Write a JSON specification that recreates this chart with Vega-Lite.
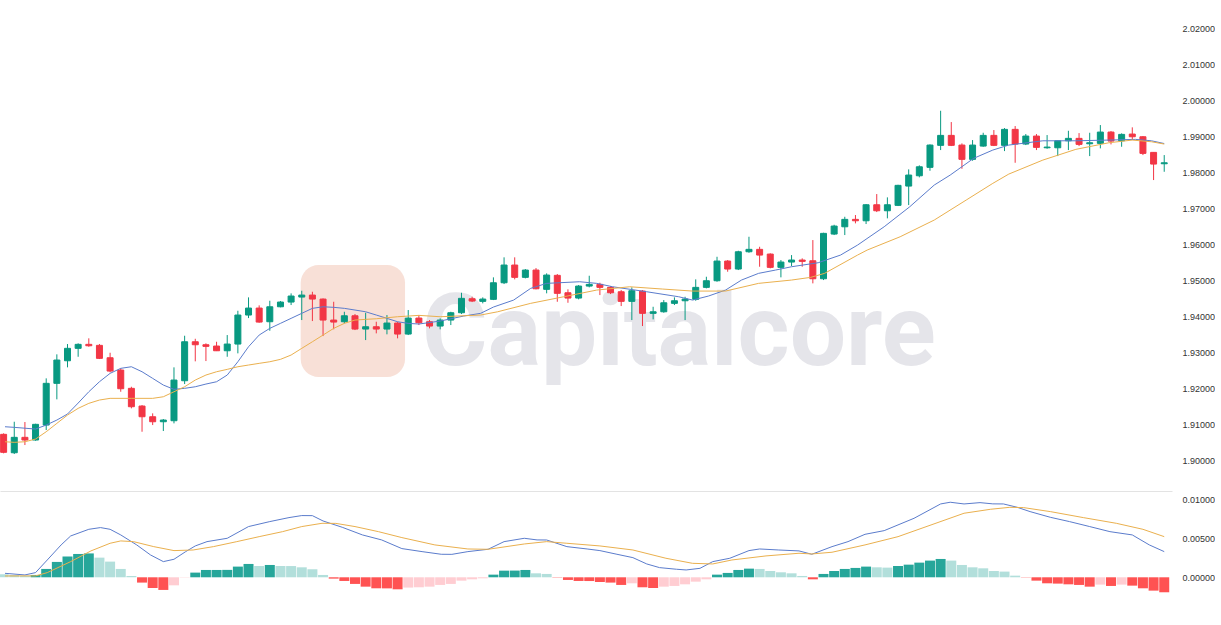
{
  "$schema": "https://vega.github.io/schema/vega-lite/v6.json",
  "padding": 0,
  "background": "#ffffff",
  "spacing": 0,
  "config": {"view": {"stroke": null}, "font": "Liberation Sans"},
  "datasets": {
    "candles": [
      {"i":-1,"o":1.90714,"h":1.90742,"l":1.90186,"c":1.90214},
      {"i":0,"o":1.90203,"h":1.91064,"l":1.90167,"c":1.90631},
      {"i":1,"o":1.90631,"h":1.91056,"l":1.90417,"c":1.90556},
      {"i":2,"o":1.90556,"h":1.91008,"l":1.90536,"c":1.90992},
      {"i":3,"o":1.90972,"h":1.92269,"l":1.90833,"c":1.92131},
      {"i":4,"o":1.92131,"h":1.92936,"l":1.91686,"c":1.92778},
      {"i":5,"o":1.92758,"h":1.93222,"l":1.92575,"c":1.93103},
      {"i":6,"o":1.93103,"h":1.93242,"l":1.92869,"c":1.93214},
      {"i":7,"o":1.93214,"h":1.93381,"l":1.93147,"c":1.93175},
      {"i":8,"o":1.93186,"h":1.93222,"l":1.92806,"c":1.92825},
      {"i":9,"o":1.92842,"h":1.92981,"l":1.92436,"c":1.92472},
      {"i":10,"o":1.925,"h":1.92547,"l":1.91897,"c":1.91981},
      {"i":11,"o":1.91992,"h":1.92036,"l":1.91436,"c":1.91481},
      {"i":12,"o":1.915,"h":1.91528,"l":1.90786,"c":1.91203},
      {"i":13,"o":1.91203,"h":1.91297,"l":1.90972,"c":1.91064},
      {"i":14,"o":1.91064,"h":1.91139,"l":1.90806,"c":1.91111},
      {"i":15,"o":1.91092,"h":1.92575,"l":1.91019,"c":1.92222},
      {"i":16,"o":1.92203,"h":1.93453,"l":1.92111,"c":1.93286},
      {"i":17,"o":1.93286,"h":1.93369,"l":1.92742,"c":1.93203},
      {"i":18,"o":1.93203,"h":1.93242,"l":1.9275,"c":1.93158},
      {"i":19,"o":1.93167,"h":1.93286,"l":1.93028,"c":1.93036},
      {"i":20,"o":1.93036,"h":1.93472,"l":1.92869,"c":1.93222},
      {"i":21,"o":1.93222,"h":1.94147,"l":1.92964,"c":1.94028},
      {"i":22,"o":1.94028,"h":1.94519,"l":1.93944,"c":1.94222},
      {"i":23,"o":1.94222,"h":1.94297,"l":1.93814,"c":1.93833},
      {"i":24,"o":1.93842,"h":1.94425,"l":1.93592,"c":1.94258},
      {"i":25,"o":1.94258,"h":1.94417,"l":1.94242,"c":1.94389},
      {"i":26,"o":1.94389,"h":1.9463,"l":1.94306,"c":1.94556},
      {"i":27,"o":1.94528,"h":1.94703,"l":1.93889,"c":1.94583},
      {"i":28,"o":1.94583,"h":1.94675,"l":1.93861,"c":1.94472},
      {"i":29,"o":1.94472,"h":1.9449,"l":1.93444,"c":1.93889},
      {"i":30,"o":1.93889,"h":1.94397,"l":1.93631,"c":1.93833},
      {"i":31,"o":1.93842,"h":1.94119,"l":1.93797,"c":1.94008},
      {"i":32,"o":1.94008,"h":1.94056,"l":1.93611,"c":1.93639},
      {"i":33,"o":1.93639,"h":1.94092,"l":1.93333,"c":1.93703},
      {"i":34,"o":1.93703,"h":1.93842,"l":1.93519,"c":1.93639},
      {"i":35,"o":1.93639,"h":1.94028,"l":1.93492,"c":1.93806},
      {"i":36,"o":1.93806,"h":1.93842,"l":1.93381,"c":1.935},
      {"i":37,"o":1.935,"h":1.94167,"l":1.93472,"c":1.93944},
      {"i":38,"o":1.93944,"h":1.94028,"l":1.9375,"c":1.93814},
      {"i":39,"o":1.93842,"h":1.93889,"l":1.93658,"c":1.93722},
      {"i":40,"o":1.93722,"h":1.93936,"l":1.93631,"c":1.93889},
      {"i":41,"o":1.93889,"h":1.94119,"l":1.9375,"c":1.94092},
      {"i":42,"o":1.94092,"h":1.94647,"l":1.94056,"c":1.94492},
      {"i":43,"o":1.94481,"h":1.94536,"l":1.94389,"c":1.94417},
      {"i":44,"o":1.94408,"h":1.94519,"l":1.94353,"c":1.94472},
      {"i":45,"o":1.94464,"h":1.95075,"l":1.94444,"c":1.94925},
      {"i":46,"o":1.94925,"h":1.95631,"l":1.94889,"c":1.95417},
      {"i":47,"o":1.95417,"h":1.95631,"l":1.95019,"c":1.95075},
      {"i":48,"o":1.95075,"h":1.95306,"l":1.95047,"c":1.95278},
      {"i":49,"o":1.95278,"h":1.95333,"l":1.94742,"c":1.94758},
      {"i":50,"o":1.94742,"h":1.95186,"l":1.94631,"c":1.95139},
      {"i":51,"o":1.95131,"h":1.95167,"l":1.94397,"c":1.94631},
      {"i":52,"o":1.94647,"h":1.94742,"l":1.94369,"c":1.945},
      {"i":53,"o":1.945,"h":1.94861,"l":1.94464,"c":1.94833},
      {"i":54,"o":1.94833,"h":1.9512,"l":1.94797,"c":1.9488},
      {"i":55,"o":1.9488,"h":1.94925,"l":1.94583,"c":1.94797},
      {"i":56,"o":1.94797,"h":1.94833,"l":1.94611,"c":1.94647},
      {"i":57,"o":1.94675,"h":1.94722,"l":1.94278,"c":1.94408},
      {"i":58,"o":1.94408,"h":1.94797,"l":1.93889,"c":1.94703},
      {"i":59,"o":1.94694,"h":1.94722,"l":1.93722,"c":1.94075},
      {"i":60,"o":1.94075,"h":1.94258,"l":1.93908,"c":1.94119},
      {"i":61,"o":1.94119,"h":1.94444,"l":1.94092,"c":1.94369},
      {"i":62,"o":1.94353,"h":1.94519,"l":1.94306,"c":1.94425},
      {"i":63,"o":1.94425,"h":1.94536,"l":1.93889,"c":1.94472},
      {"i":64,"o":1.94464,"h":1.95019,"l":1.94425,"c":1.94797},
      {"i":65,"o":1.94797,"h":1.95092,"l":1.94769,"c":1.94981},
      {"i":66,"o":1.94981,"h":1.95647,"l":1.94953,"c":1.95528},
      {"i":67,"o":1.95528,"h":1.95556,"l":1.95231,"c":1.95306},
      {"i":68,"o":1.95306,"h":1.95814,"l":1.95278,"c":1.95786},
      {"i":69,"o":1.95786,"h":1.96203,"l":1.95758,"c":1.95853},
      {"i":70,"o":1.95853,"h":1.95925,"l":1.9537,"c":1.95694},
      {"i":71,"o":1.95722,"h":1.95742,"l":1.95325,"c":1.95353},
      {"i":72,"o":1.95353,"h":1.95556,"l":1.95075,"c":1.955},
      {"i":73,"o":1.955,"h":1.95694,"l":1.95389,"c":1.95556},
      {"i":74,"o":1.95556,"h":1.95603,"l":1.9537,"c":1.95519},
      {"i":75,"o":1.95536,"h":1.96111,"l":1.94908,"c":1.95036},
      {"i":76,"o":1.95036,"h":1.96314,"l":1.95,"c":1.96297},
      {"i":77,"o":1.96278,"h":1.96536,"l":1.9625,"c":1.965},
      {"i":78,"o":1.9648,"h":1.96758,"l":1.9625,"c":1.96686},
      {"i":79,"o":1.96686,"h":1.96806,"l":1.96575,"c":1.96647},
      {"i":80,"o":1.96647,"h":1.97111,"l":1.96556,"c":1.97092},
      {"i":81,"o":1.97092,"h":1.97389,"l":1.96889,"c":1.96925},
      {"i":82,"o":1.96925,"h":1.97297,"l":1.96714,"c":1.97092},
      {"i":83,"o":1.97075,"h":1.97647,"l":1.97056,"c":1.97631},
      {"i":84,"o":1.97611,"h":1.98075,"l":1.97083,"c":1.97917},
      {"i":85,"o":1.97897,"h":1.98186,"l":1.97853,"c":1.98147},
      {"i":86,"o":1.98131,"h":1.98769,"l":1.98036,"c":1.9875},
      {"i":87,"o":1.98742,"h":1.99703,"l":1.98611,"c":1.99019},
      {"i":88,"o":1.99019,"h":1.99389,"l":1.98722,"c":1.98742},
      {"i":89,"o":1.9875,"h":1.98797,"l":1.98092,"c":1.98353},
      {"i":90,"o":1.98353,"h":1.98889,"l":1.98314,"c":1.9875},
      {"i":91,"o":1.98722,"h":1.99092,"l":1.98703,"c":1.99019},
      {"i":92,"o":1.99019,"h":1.99167,"l":1.98722,"c":1.98742},
      {"i":93,"o":1.98742,"h":1.99222,"l":1.98583,"c":1.99186},
      {"i":94,"o":1.99186,"h":1.99278,"l":1.98258,"c":1.98778},
      {"i":95,"o":1.98778,"h":1.99056,"l":1.9875,"c":1.99},
      {"i":96,"o":1.99,"h":1.99056,"l":1.98611,"c":1.98686},
      {"i":97,"o":1.98675,"h":1.99028,"l":1.98647,"c":1.98694},
      {"i":98,"o":1.98675,"h":1.98869,"l":1.98444,"c":1.98869},
      {"i":99,"o":1.98869,"h":1.99147,"l":1.98611,"c":1.98936},
      {"i":100,"o":1.98936,"h":1.99083,"l":1.98722,"c":1.98769},
      {"i":101,"o":1.98786,"h":1.99092,"l":1.98444,"c":1.98814},
      {"i":102,"o":1.98797,"h":1.99306,"l":1.98658,"c":1.99111},
      {"i":103,"o":1.99111,"h":1.99139,"l":1.98769,"c":1.98861},
      {"i":104,"o":1.98869,"h":1.99075,"l":1.98703,"c":1.99047},
      {"i":105,"o":1.99056,"h":1.99242,"l":1.98889,"c":1.98981},
      {"i":106,"o":1.98981,"h":1.99,"l":1.98472,"c":1.98519},
      {"i":107,"o":1.98547,"h":1.98547,"l":1.97778,"c":1.98222},
      {"i":108,"o":1.98231,"h":1.98472,"l":1.98008,"c":1.98258}
    ],
    "ma": [
      {"i":-0.87,"v":1.90925,"s":"fast"},{"i":0,"v":1.90908,"s":"fast"},{"i":2,"v":1.90861,"s":"fast"},{"i":3,"v":1.90972,"s":"fast"},{"i":4,"v":1.91111,"s":"fast"},{"i":5,"v":1.91278,"s":"fast"},{"i":6,"v":1.91583,"s":"fast"},{"i":7,"v":1.91897,"s":"fast"},{"i":8,"v":1.92175,"s":"fast"},{"i":9,"v":1.92408,"s":"fast"},{"i":10,"v":1.92547,"s":"fast"},{"i":11,"v":1.92592,"s":"fast"},{"i":12,"v":1.92453,"s":"fast"},{"i":13,"v":1.92269,"s":"fast"},{"i":14,"v":1.92083,"s":"fast"},{"i":15,"v":1.91964,"s":"fast"},{"i":16,"v":1.91992,"s":"fast"},{"i":17,"v":1.92036,"s":"fast"},{"i":18,"v":1.92111,"s":"fast"},{"i":19,"v":1.92175,"s":"fast"},{"i":20,"v":1.92361,"s":"fast"},{"i":21,"v":1.92731,"s":"fast"},{"i":22,"v":1.93147,"s":"fast"},{"i":23,"v":1.93472,"s":"fast"},{"i":24,"v":1.93658,"s":"fast"},{"i":25,"v":1.93797,"s":"fast"},{"i":26,"v":1.93936,"s":"fast"},{"i":27,"v":1.94075,"s":"fast"},{"i":28,"v":1.94214,"s":"fast"},{"i":29,"v":1.94258,"s":"fast"},{"i":30,"v":1.94242,"s":"fast"},{"i":31,"v":1.94214,"s":"fast"},{"i":32,"v":1.94167,"s":"fast"},{"i":33,"v":1.94119,"s":"fast"},{"i":34,"v":1.94028,"s":"fast"},{"i":35,"v":1.93936,"s":"fast"},{"i":36,"v":1.93842,"s":"fast"},{"i":37,"v":1.93797,"s":"fast"},{"i":38,"v":1.93778,"s":"fast"},{"i":40,"v":1.93861,"s":"fast"},{"i":42.2,"v":1.94,"s":"fast"},{"i":43.8,"v":1.94075,"s":"fast"},{"i":45,"v":1.9425,"s":"fast"},{"i":46.9,"v":1.94444,"s":"fast"},{"i":48.5,"v":1.94769,"s":"fast"},{"i":50,"v":1.94908,"s":"fast"},{"i":53.1,"v":1.94953,"s":"fast"},{"i":54.7,"v":1.94908,"s":"fast"},{"i":56.2,"v":1.94814,"s":"fast"},{"i":59.4,"v":1.94675,"s":"fast"},{"i":62.4,"v":1.94536,"s":"fast"},{"i":63.7,"v":1.94444,"s":"fast"},{"i":65.2,"v":1.94556,"s":"fast"},{"i":66.8,"v":1.94722,"s":"fast"},{"i":68.3,"v":1.95,"s":"fast"},{"i":69.9,"v":1.95186,"s":"fast"},{"i":71.5,"v":1.95278,"s":"fast"},{"i":73,"v":1.9537,"s":"fast"},{"i":75.5,"v":1.95481,"s":"fast"},{"i":77.6,"v":1.95694,"s":"fast"},{"i":79.2,"v":1.95972,"s":"fast"},{"i":81.7,"v":1.96481,"s":"fast"},{"i":84.1,"v":1.97036,"s":"fast"},{"i":86.4,"v":1.97639,"s":"fast"},{"i":87.9,"v":1.97917,"s":"fast"},{"i":90.1,"v":1.98381,"s":"fast"},{"i":91.9,"v":1.98611,"s":"fast"},{"i":93.4,"v":1.9875,"s":"fast"},{"i":96.6,"v":1.98869,"s":"fast"},{"i":99.7,"v":1.98869,"s":"fast"},{"i":102.8,"v":1.98889,"s":"fast"},{"i":105.3,"v":1.98908,"s":"fast"},{"i":106.8,"v":1.98869,"s":"fast"},{"i":108,"v":1.98792,"s":"fast"},
      {"i":-0.87,"v":1.90508,"s":"slow"},{"i":0,"v":1.90492,"s":"slow"},{"i":1,"v":1.90508,"s":"slow"},{"i":2,"v":1.90583,"s":"slow"},{"i":3,"v":1.90786,"s":"slow"},{"i":4,"v":1.91019,"s":"slow"},{"i":5,"v":1.9125,"s":"slow"},{"i":6,"v":1.91436,"s":"slow"},{"i":7,"v":1.91575,"s":"slow"},{"i":8,"v":1.91667,"s":"slow"},{"i":9,"v":1.91714,"s":"slow"},{"i":11,"v":1.91714,"s":"slow"},{"i":13,"v":1.91714,"s":"slow"},{"i":14,"v":1.91758,"s":"slow"},{"i":15,"v":1.91897,"s":"slow"},{"i":16,"v":1.92036,"s":"slow"},{"i":17,"v":1.92222,"s":"slow"},{"i":18,"v":1.92361,"s":"slow"},{"i":19,"v":1.92453,"s":"slow"},{"i":20,"v":1.92519,"s":"slow"},{"i":21,"v":1.92592,"s":"slow"},{"i":22,"v":1.92639,"s":"slow"},{"i":23,"v":1.92686,"s":"slow"},{"i":24,"v":1.92731,"s":"slow"},{"i":25,"v":1.92797,"s":"slow"},{"i":26,"v":1.92917,"s":"slow"},{"i":27,"v":1.93103,"s":"slow"},{"i":28,"v":1.93286,"s":"slow"},{"i":29,"v":1.93472,"s":"slow"},{"i":30,"v":1.93658,"s":"slow"},{"i":31,"v":1.93797,"s":"slow"},{"i":32,"v":1.93889,"s":"slow"},{"i":33,"v":1.93908,"s":"slow"},{"i":34,"v":1.93925,"s":"slow"},{"i":35,"v":1.93953,"s":"slow"},{"i":36,"v":1.93981,"s":"slow"},{"i":37,"v":1.94,"s":"slow"},{"i":38,"v":1.94019,"s":"slow"},{"i":40,"v":1.93981,"s":"slow"},{"i":43.8,"v":1.94028,"s":"slow"},{"i":45.4,"v":1.94119,"s":"slow"},{"i":48.5,"v":1.94353,"s":"slow"},{"i":51.6,"v":1.94536,"s":"slow"},{"i":54.7,"v":1.94722,"s":"slow"},{"i":57.8,"v":1.94814,"s":"slow"},{"i":60.9,"v":1.9475,"s":"slow"},{"i":63.7,"v":1.94694,"s":"slow"},{"i":66.8,"v":1.94694,"s":"slow"},{"i":69.9,"v":1.94908,"s":"slow"},{"i":73,"v":1.95,"s":"slow"},{"i":74.8,"v":1.95075,"s":"slow"},{"i":76.1,"v":1.95186,"s":"slow"},{"i":79.2,"v":1.95694,"s":"slow"},{"i":80.1,"v":1.95833,"s":"slow"},{"i":83.2,"v":1.96203,"s":"slow"},{"i":86.4,"v":1.96667,"s":"slow"},{"i":89.4,"v":1.97222,"s":"slow"},{"i":91.9,"v":1.97686,"s":"slow"},{"i":93.4,"v":1.97944,"s":"slow"},{"i":96.6,"v":1.98333,"s":"slow"},{"i":99.7,"v":1.98631,"s":"slow"},{"i":102.8,"v":1.98814,"s":"slow"},{"i":105,"v":1.98889,"s":"slow"},{"i":106.8,"v":1.98842,"s":"slow"},{"i":108,"v":1.98778,"s":"slow"}
    ],
    "hist": [
      {"i":-1,"h":0.0004,"t":"w"},{"i":0,"h":0.0003,"t":"w"},{"i":1,"h":0.0002,"t":"w"},{"i":2,"h":0.0003,"t":"s"},{"i":3,"h":0.00107,"t":"s"},{"i":4,"h":0.00197,"t":"s"},{"i":5,"h":0.00265,"t":"s"},{"i":6,"h":0.00299,"t":"s"},{"i":7,"h":0.00306,"t":"s"},{"i":8,"h":0.00252,"t":"w"},{"i":9,"h":0.00201,"t":"w"},{"i":10,"h":0.00107,"t":"w"},{"i":11,"h":0.00017,"t":"w"},{"i":12,"h":-0.00068,"t":"s"},{"i":13,"h":-0.00137,"t":"s"},{"i":14,"h":-0.00162,"t":"s"},{"i":15,"h":-0.00103,"t":"w"},{"i":16,"h":-0.00004,"t":"w"},{"i":17,"h":0.0006,"t":"s"},{"i":18,"h":0.00094,"t":"s"},{"i":19,"h":0.00094,"t":"s"},{"i":20,"h":0.00095,"t":"s"},{"i":21,"h":0.00137,"t":"s"},{"i":22,"h":0.00171,"t":"s"},{"i":23,"h":0.00145,"t":"w"},{"i":24,"h":0.00158,"t":"s"},{"i":25,"h":0.00145,"t":"w"},{"i":26,"h":0.00144,"t":"w"},{"i":27,"h":0.00128,"t":"w"},{"i":28,"h":0.00103,"t":"w"},{"i":29,"h":0.0003,"t":"w"},{"i":30,"h":-0.00017,"t":"s"},{"i":31,"h":-0.00047,"t":"s"},{"i":32,"h":-0.00085,"t":"s"},{"i":33,"h":-0.0012,"t":"s"},{"i":34,"h":-0.00141,"t":"s"},{"i":35,"h":-0.00142,"t":"s"},{"i":36,"h":-0.00154,"t":"s"},{"i":37,"h":-0.00132,"t":"w"},{"i":38,"h":-0.00128,"t":"w"},{"i":39,"h":-0.0012,"t":"w"},{"i":40,"h":-0.00098,"t":"w"},{"i":41,"h":-0.00085,"t":"w"},{"i":42,"h":-0.00043,"t":"w"},{"i":43,"h":-0.00026,"t":"w"},{"i":44,"h":-0.00013,"t":"w"},{"i":45,"h":0.00034,"t":"s"},{"i":46,"h":0.00085,"t":"s"},{"i":47,"h":0.00086,"t":"s"},{"i":48,"h":0.00094,"t":"s"},{"i":49,"h":0.00051,"t":"w"},{"i":50,"h":0.00043,"t":"w"},{"i":51,"h":-0.00004,"t":"s"},{"i":52,"h":-0.00034,"t":"s"},{"i":53,"h":-0.00047,"t":"s"},{"i":54,"h":-0.00048,"t":"s"},{"i":55,"h":-0.0006,"t":"s"},{"i":56,"h":-0.00068,"t":"s"},{"i":57,"h":-0.00098,"t":"s"},{"i":58,"h":-0.00077,"t":"w"},{"i":59,"h":-0.00128,"t":"s"},{"i":60,"h":-0.00137,"t":"s"},{"i":61,"h":-0.0012,"t":"w"},{"i":62,"h":-0.00111,"t":"w"},{"i":63,"h":-0.0009,"t":"w"},{"i":64,"h":-0.00056,"t":"w"},{"i":65,"h":-0.00026,"t":"w"},{"i":66,"h":0.00034,"t":"s"},{"i":67,"h":0.00056,"t":"s"},{"i":68,"h":0.00094,"t":"s"},{"i":69,"h":0.00111,"t":"s"},{"i":70,"h":0.00107,"t":"w"},{"i":71,"h":0.00081,"t":"w"},{"i":72,"h":0.00064,"t":"w"},{"i":73,"h":0.00051,"t":"w"},{"i":74,"h":0.00017,"t":"w"},{"i":75,"h":-0.00026,"t":"s"},{"i":76,"h":0.00043,"t":"s"},{"i":77,"h":0.00081,"t":"s"},{"i":78,"h":0.00107,"t":"s"},{"i":79,"h":0.0012,"t":"s"},{"i":80,"h":0.00137,"t":"s"},{"i":81,"h":0.00128,"t":"w"},{"i":82,"h":0.00124,"t":"w"},{"i":83,"h":0.00145,"t":"s"},{"i":84,"h":0.00162,"t":"s"},{"i":85,"h":0.00188,"t":"s"},{"i":86,"h":0.00214,"t":"s"},{"i":87,"h":0.00235,"t":"s"},{"i":88,"h":0.00214,"t":"w"},{"i":89,"h":0.00158,"t":"w"},{"i":90,"h":0.00128,"t":"w"},{"i":91,"h":0.00115,"t":"w"},{"i":92,"h":0.00081,"t":"w"},{"i":93,"h":0.00073,"t":"w"},{"i":94,"h":0.00021,"t":"w"},{"i":95,"h":-0.00004,"t":"s"},{"i":96,"h":-0.00043,"t":"s"},{"i":97,"h":-0.00077,"t":"s"},{"i":98,"h":-0.00081,"t":"s"},{"i":99,"h":-0.0009,"t":"s"},{"i":100,"h":-0.00098,"t":"s"},{"i":101,"h":-0.0012,"t":"s"},{"i":102,"h":-0.00094,"t":"w"},{"i":103,"h":-0.00111,"t":"s"},{"i":104,"h":-0.00094,"t":"w"},{"i":105,"h":-0.00107,"t":"s"},{"i":106,"h":-0.00141,"t":"s"},{"i":107,"h":-0.00171,"t":"s"},{"i":108,"h":-0.00192,"t":"s"}
    ],
    "macd": [
      {"i":-0.87,"v":0.00051,"s":"macd"},{"i":1,"v":0.0003,"s":"macd"},{"i":2,"v":0.0006,"s":"macd"},{"i":3.1,"v":0.00222,"s":"macd"},{"i":4.4,"v":0.00415,"s":"macd"},{"i":5.3,"v":0.0053,"s":"macd"},{"i":7,"v":0.00615,"s":"macd"},{"i":8.1,"v":0.00637,"s":"macd"},{"i":9,"v":0.00615,"s":"macd"},{"i":10,"v":0.00543,"s":"macd"},{"i":11.5,"v":0.00415,"s":"macd"},{"i":12.8,"v":0.00286,"s":"macd"},{"i":14,"v":0.00201,"s":"macd"},{"i":15,"v":0.00231,"s":"macd"},{"i":16.1,"v":0.00329,"s":"macd"},{"i":17,"v":0.00402,"s":"macd"},{"i":18.1,"v":0.00457,"s":"macd"},{"i":20,"v":0.005,"s":"macd"},{"i":22,"v":0.0065,"s":"macd"},{"i":24,"v":0.00714,"s":"macd"},{"i":25.8,"v":0.00765,"s":"macd"},{"i":27,"v":0.00791,"s":"macd"},{"i":28,"v":0.0079,"s":"macd"},{"i":29,"v":0.00722,"s":"macd"},{"i":30.8,"v":0.00641,"s":"macd"},{"i":32.7,"v":0.00543,"s":"macd"},{"i":34.5,"v":0.00479,"s":"macd"},{"i":36.4,"v":0.00368,"s":"macd"},{"i":38.3,"v":0.00329,"s":"macd"},{"i":40.1,"v":0.00295,"s":"macd"},{"i":41.1,"v":0.00294,"s":"macd"},{"i":42.6,"v":0.00329,"s":"macd"},{"i":44.5,"v":0.00359,"s":"macd"},{"i":46,"v":0.00457,"s":"macd"},{"i":47.9,"v":0.005,"s":"macd"},{"i":49.1,"v":0.00479,"s":"macd"},{"i":50,"v":0.00478,"s":"macd"},{"i":51.9,"v":0.00393,"s":"macd"},{"i":53.8,"v":0.00363,"s":"macd"},{"i":55,"v":0.00342,"s":"macd"},{"i":56.6,"v":0.00295,"s":"macd"},{"i":58.1,"v":0.00252,"s":"macd"},{"i":59.4,"v":0.00171,"s":"macd"},{"i":60.6,"v":0.00124,"s":"macd"},{"i":62.2,"v":0.00103,"s":"macd"},{"i":63.1,"v":0.00094,"s":"macd"},{"i":64.4,"v":0.00115,"s":"macd"},{"i":65.6,"v":0.00201,"s":"macd"},{"i":67.2,"v":0.00244,"s":"macd"},{"i":69,"v":0.00342,"s":"macd"},{"i":70,"v":0.00363,"s":"macd"},{"i":71.8,"v":0.0035,"s":"macd"},{"i":73.7,"v":0.00338,"s":"macd"},{"i":74.9,"v":0.00295,"s":"macd"},{"i":76.8,"v":0.00393,"s":"macd"},{"i":78.3,"v":0.00457,"s":"macd"},{"i":79.9,"v":0.00551,"s":"macd"},{"i":81.7,"v":0.00598,"s":"macd"},{"i":84.5,"v":0.00756,"s":"macd"},{"i":87,"v":0.0094,"s":"macd"},{"i":87.9,"v":0.00962,"s":"macd"},{"i":89.2,"v":0.0094,"s":"macd"},{"i":90.7,"v":0.00957,"s":"macd"},{"i":91.9,"v":0.00941,"s":"macd"},{"i":92.9,"v":0.0094,"s":"macd"},{"i":94.2,"v":0.00897,"s":"macd"},{"i":95.4,"v":0.00842,"s":"macd"},{"i":97.3,"v":0.00769,"s":"macd"},{"i":99.1,"v":0.00714,"s":"macd"},{"i":101,"v":0.0065,"s":"macd"},{"i":102.9,"v":0.00585,"s":"macd"},{"i":105,"v":0.00543,"s":"macd"},{"i":106.6,"v":0.00415,"s":"macd"},{"i":108,"v":0.00329,"s":"macd"},
      {"i":-0.87,"v":0.00017,"s":"signal"},{"i":2,"v":0.00018,"s":"signal"},{"i":3.1,"v":0.0006,"s":"signal"},{"i":5.3,"v":0.00201,"s":"signal"},{"i":7.2,"v":0.00338,"s":"signal"},{"i":9,"v":0.00436,"s":"signal"},{"i":10,"v":0.00466,"s":"signal"},{"i":11.2,"v":0.00457,"s":"signal"},{"i":13.1,"v":0.00393,"s":"signal"},{"i":15,"v":0.00342,"s":"signal"},{"i":16.8,"v":0.0035,"s":"signal"},{"i":18.7,"v":0.00393,"s":"signal"},{"i":20.9,"v":0.00457,"s":"signal"},{"i":23,"v":0.00521,"s":"signal"},{"i":25.2,"v":0.00585,"s":"signal"},{"i":27,"v":0.0065,"s":"signal"},{"i":28.9,"v":0.00692,"s":"signal"},{"i":30.2,"v":0.00691,"s":"signal"},{"i":32,"v":0.0065,"s":"signal"},{"i":34.2,"v":0.00585,"s":"signal"},{"i":36.4,"v":0.00509,"s":"signal"},{"i":39.5,"v":0.00415,"s":"signal"},{"i":42.6,"v":0.00363,"s":"signal"},{"i":44.5,"v":0.00359,"s":"signal"},{"i":47.9,"v":0.00427,"s":"signal"},{"i":50,"v":0.00457,"s":"signal"},{"i":51.9,"v":0.00436,"s":"signal"},{"i":55,"v":0.00402,"s":"signal"},{"i":58.1,"v":0.0035,"s":"signal"},{"i":61.2,"v":0.00244,"s":"signal"},{"i":63.7,"v":0.00179,"s":"signal"},{"i":65.6,"v":0.00171,"s":"signal"},{"i":67.4,"v":0.00222,"s":"signal"},{"i":70.6,"v":0.00274,"s":"signal"},{"i":73.7,"v":0.00308,"s":"signal"},{"i":74.9,"v":0.00299,"s":"signal"},{"i":76.8,"v":0.00321,"s":"signal"},{"i":79.9,"v":0.00415,"s":"signal"},{"i":83,"v":0.00521,"s":"signal"},{"i":86.1,"v":0.00671,"s":"signal"},{"i":89.2,"v":0.00821,"s":"signal"},{"i":91.7,"v":0.00872,"s":"signal"},{"i":93.5,"v":0.00897,"s":"signal"},{"i":94.8,"v":0.00893,"s":"signal"},{"i":97.3,"v":0.00842,"s":"signal"},{"i":100.4,"v":0.00765,"s":"signal"},{"i":103.5,"v":0.00692,"s":"signal"},{"i":106,"v":0.00615,"s":"signal"},{"i":108,"v":0.00521,"s":"signal"}
    ],
    "wmtext": [{"label":"Capitalcore","i":38.3,"p":1.92639}],
    "wmlogo": [{"i1":26.9,"i2":36.7,"p1":1.95417,"p2":1.92306}]
  },
  "vconcat": [
    {
      "width": 1172,
      "height": 491,
      "layer": [
        {
          "data": {"name": "wmlogo"},
          "mark": {"type": "rect", "cornerRadius": 18, "fill": "#f8e0d7", "clip": true},
          "encoding": {
            "x": {"field": "i1", "type": "quantitative", "scale": {"domain": [-0.87, 108.26], "nice": false, "zero": false}, "axis": null},
            "x2": {"field": "i2"},
            "y": {"field": "p1", "type": "quantitative", "scale": {"domain": [1.8914, 2.0278], "nice": false, "zero": false}, "axis": {"orient": "right", "values": [1.90, 1.91, 1.92, 1.93, 1.94, 1.95, 1.96, 1.97, 1.98, 1.99, 2.00, 2.01, 2.02], "format": ".5f", "title": null, "grid": false, "domain": false, "ticks": false, "labelPadding": 10, "labelFontSize": 9, "labelColor": "#333333", "labelFont": "Liberation Sans", "labelAlign": "left"}},
            "y2": {"field": "p2"}
          }
        },
        {
          "data": {"name": "wmtext"},
          "mark": {"type": "text", "font": "Roboto", "fontWeight": "bold", "fontSize": 100, "align": "left", "baseline": "alphabetic", "color": "#e5e5ea", "clip": true},
          "encoding": {
            "x": {"field": "i", "type": "quantitative"},
            "y": {"field": "p", "type": "quantitative"},
            "text": {"field": "label"}
          }
        },
        {
          "data": {"name": "candles"},
          "mark": {"type": "rule", "strokeWidth": 1, "clip": true},
          "encoding": {
            "x": {"field": "i", "type": "quantitative"},
            "y": {"field": "l", "type": "quantitative"},
            "y2": {"field": "h"},
            "color": {"condition": {"test": "datum.c >= datum.o", "value": "#089981"}, "value": "#f23645"}
          }
        },
        {
          "data": {"name": "candles"},
          "mark": {"type": "bar", "size": 6, "strokeWidth": 1, "clip": true},
          "encoding": {
            "x": {"field": "i", "type": "quantitative"},
            "y": {"field": "o", "type": "quantitative"},
            "y2": {"field": "c"},
            "fill": {"condition": {"test": "datum.c >= datum.o", "value": "#089981"}, "value": "#f23645"},
            "stroke": {"condition": {"test": "datum.c >= datum.o", "value": "#089981"}, "value": "#f23645"}
          }
        },
        {
          "data": {"name": "ma"},
          "mark": {"type": "line", "strokeWidth": 1, "clip": true},
          "encoding": {
            "x": {"field": "i", "type": "quantitative"},
            "y": {"field": "v", "type": "quantitative"},
            "color": {"field": "s", "type": "nominal", "scale": {"domain": ["fast", "slow"], "range": ["#5b7ccc", "#eab04e"]}, "legend": null},
            "order": {"field": "i", "type": "quantitative"}
          }
        }
      ]
    },
    {
      "width": 1172,
      "height": 131,
      "layer": [
        {
          "data": {"name": "hist"},
          "mark": {"type": "bar", "size": 10, "clip": true},
          "encoding": {
            "x": {"field": "i", "type": "quantitative", "scale": {"domain": [-0.87, 108.26], "nice": false, "zero": false}, "axis": {"orient": "top", "labels": false, "ticks": false, "grid": false, "domain": true, "domainColor": "#e3e3e3", "title": null}},
            "y": {"field": "h", "type": "quantitative", "scale": {"domain": [-0.00573, 0.01106], "nice": false, "zero": false}, "axis": {"orient": "right", "values": [0, 0.005, 0.01], "format": ".5f", "title": null, "grid": false, "domain": false, "ticks": false, "labelPadding": 10, "labelFontSize": 9, "labelColor": "#333333", "labelFont": "Liberation Sans", "labelAlign": "left"}},
            "y2": {"datum": 0},
            "color": {
              "condition": [
                {"test": "datum.h >= 0 && datum.t == 's'", "value": "#26a69a"},
                {"test": "datum.h >= 0 && datum.t == 'w'", "value": "#b2dfdb"},
                {"test": "datum.h < 0 && datum.t == 's'", "value": "#ff5252"}
              ],
              "value": "#ffcdd2"
            }
          }
        },
        {
          "data": {"name": "macd"},
          "mark": {"type": "line", "strokeWidth": 1, "clip": true},
          "encoding": {
            "x": {"field": "i", "type": "quantitative"},
            "y": {"field": "v", "type": "quantitative"},
            "color": {"field": "s", "type": "nominal", "scale": {"domain": ["macd", "signal"], "range": ["#5b7ccc", "#ec9a55"]}, "legend": null},
            "order": {"field": "i", "type": "quantitative"}
          }
        }
      ]
    }
  ]
}
